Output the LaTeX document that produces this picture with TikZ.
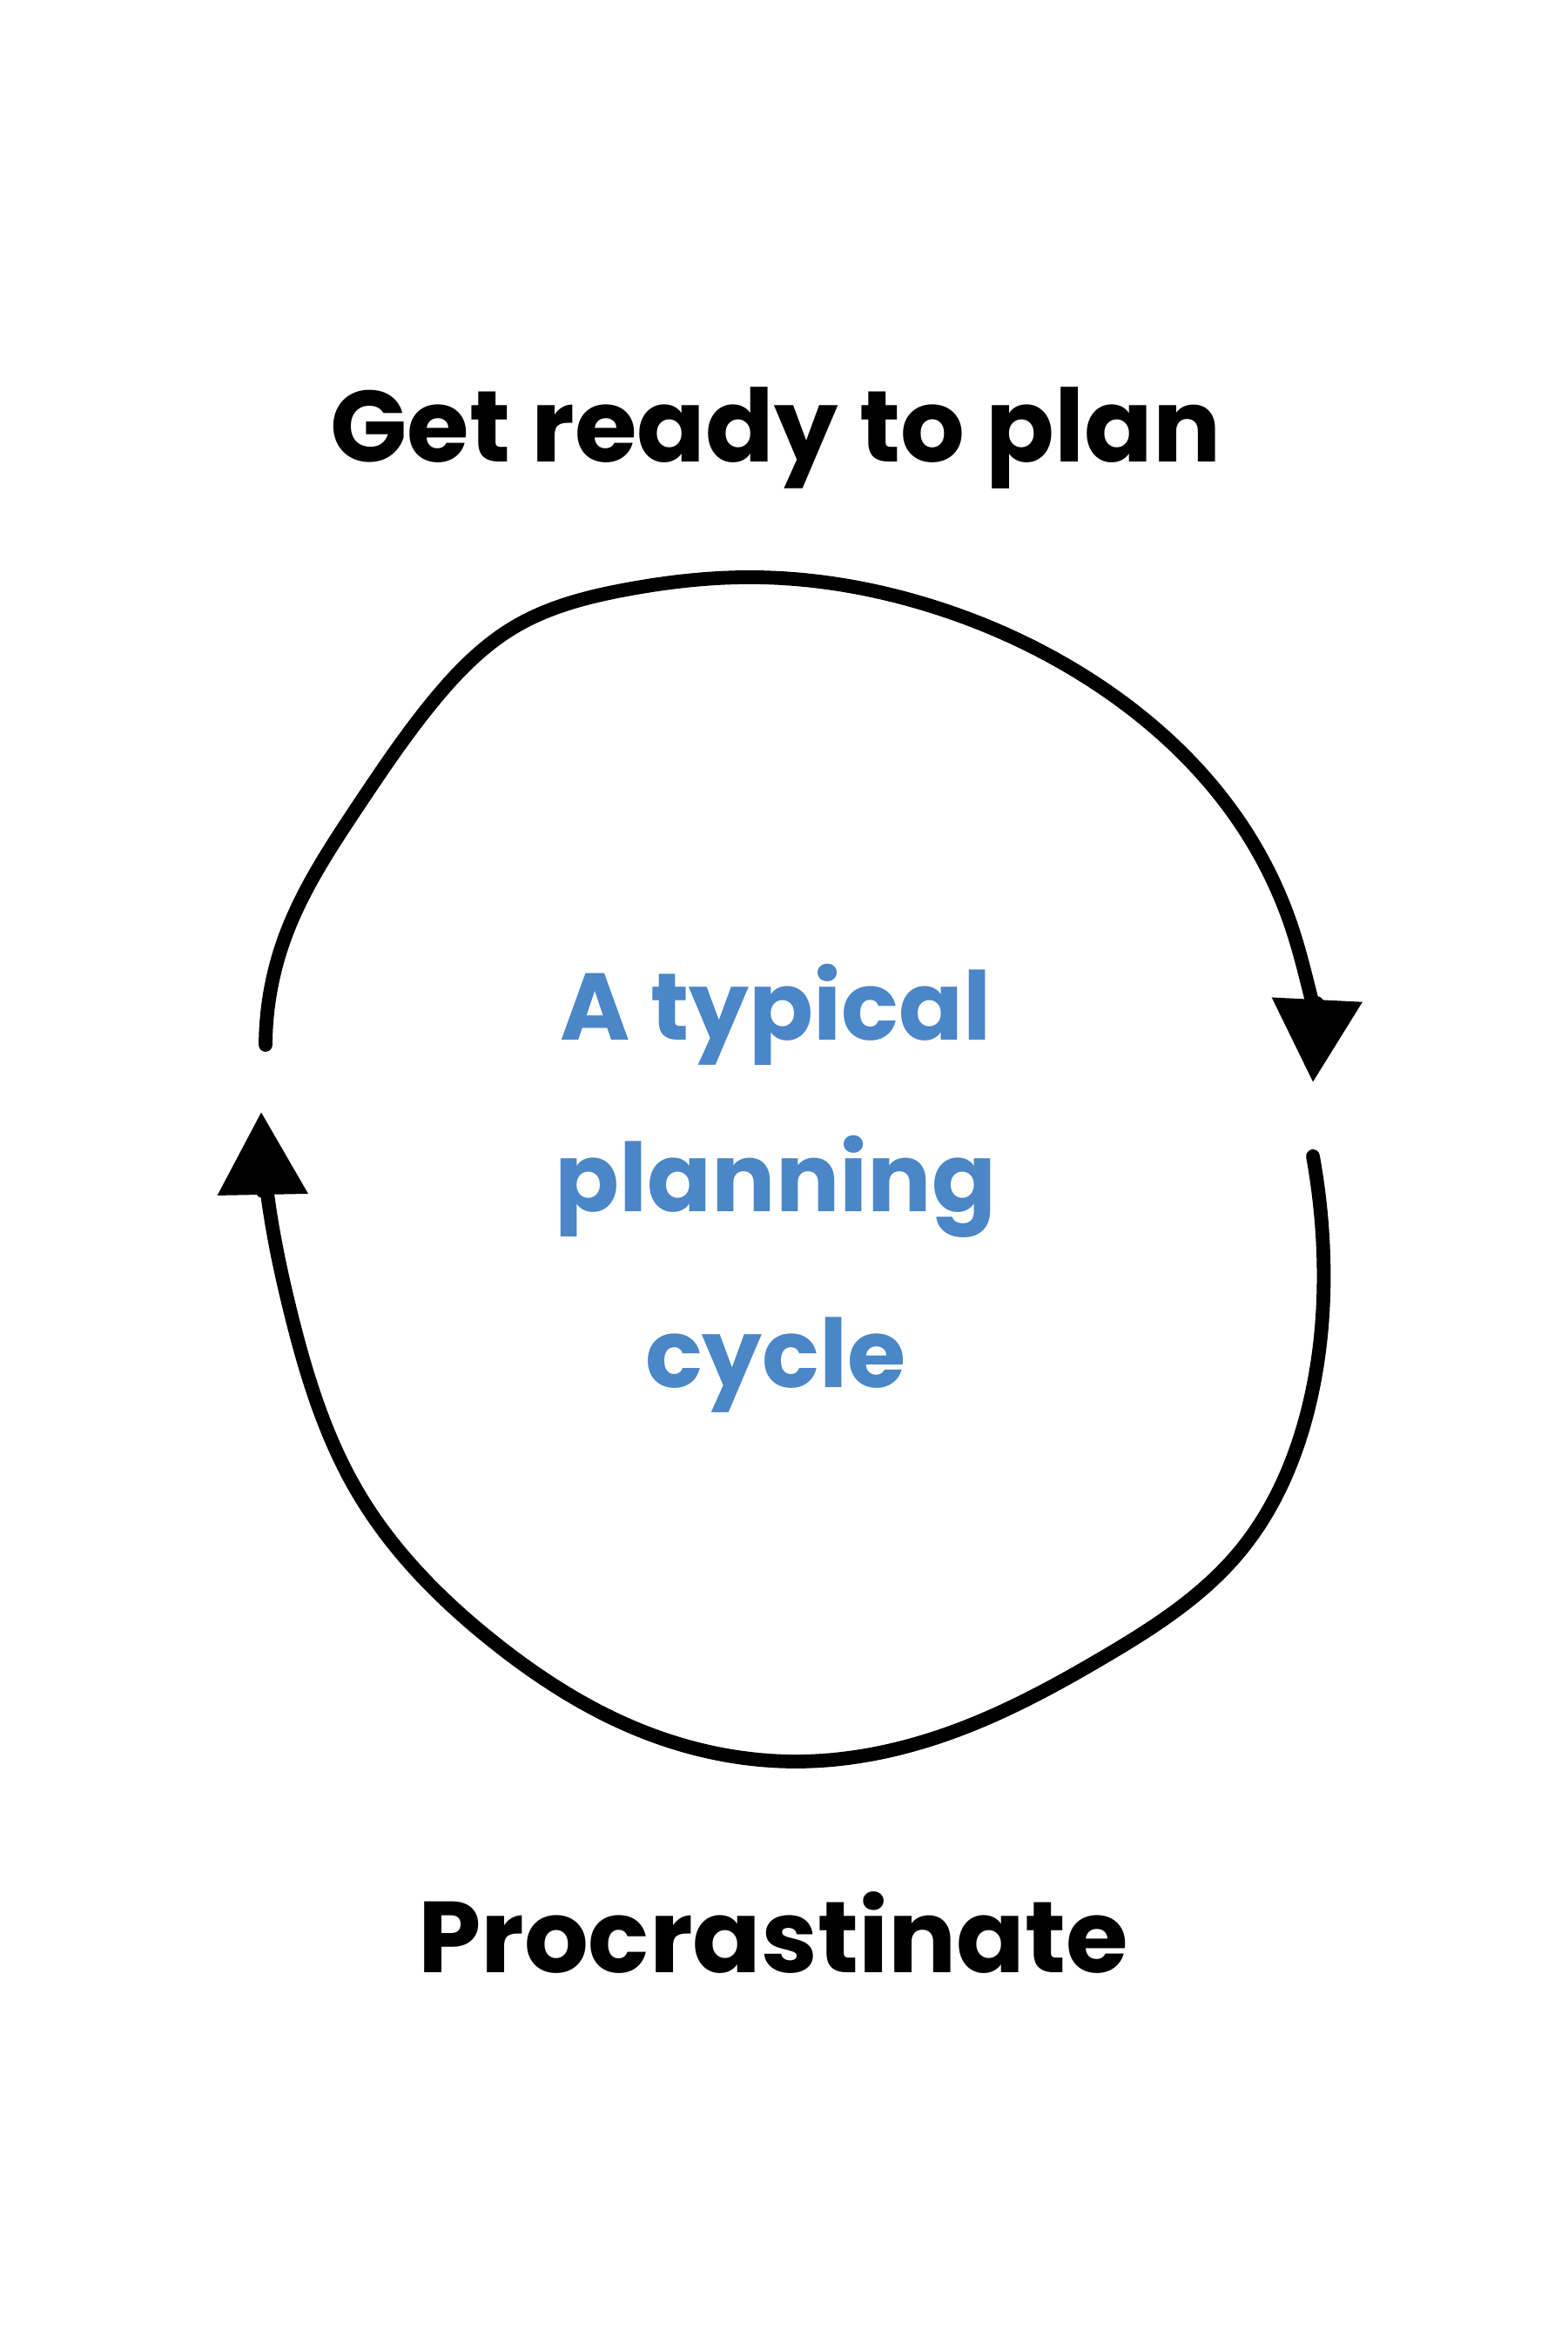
\documentclass[tikz,border=0pt]{standalone}
\usepackage{fontspec}
\setmainfont{Poppins}
\usepackage{xcolor}
\usetikzlibrary{arrows.meta}
\usetikzlibrary{hobby}
\definecolor{cycleblue}{RGB}{74,134,200}

\begin{document}
\begin{tikzpicture}[
    label/.style={font=\fontsize{33}{38}\selectfont\bfseries, text=black, anchor=base},
    inner/.style={font=\fontsize{31}{36}\selectfont\bfseries, text=cycleblue, anchor=base},
    loop/.style={line width=4.5pt, line cap=round, -{Triangle[width=1cm,length=0.95cm]}}]
      \useasboundingbox (0,0) rectangle (18,27);
      \node[label] (plan) at (8.91,21.69) {Get ready to plan};
      \node[label] (procr) at (8.88,4.34) {Procrastinate};
      \node[inner] (title-1) at (8.91,15.05) {A typical};
      \node[inner] (title-2) at (8.91,13.08) {planning};
      \node[inner] (title-3) at (8.91,11.06) {cycle};

      \coordinate (top-l) at (3.05,15.0);
      \coordinate (top-r) at (15.08,14.57);
      \coordinate (bot-r) at (15.08,13.72);
      \coordinate (bot-l) at (3.0,14.23);

      \draw[loop] (top-l) to[curve through={(3.26,16.2) (4.11,17.74) (4.97,18.94) (5.91,19.8) (7.2,20.23) (8.57,20.37) (10.63,20.06) (12.51,19.2) (14.23,17.57) (14.83,16.37)}] (top-r);
      \draw[loop] (bot-r) to[curve through={(15.2,12.6) (15.0,10.72) (14.23,9.17) (12.68,7.97) (10.97,7.12) (9.17,6.77) (7.37,7.12) (5.66,8.15) (4.11,9.86) (3.34,11.92) (3.05,13.46)}] (bot-l);
    \end{tikzpicture}
\end{document}
